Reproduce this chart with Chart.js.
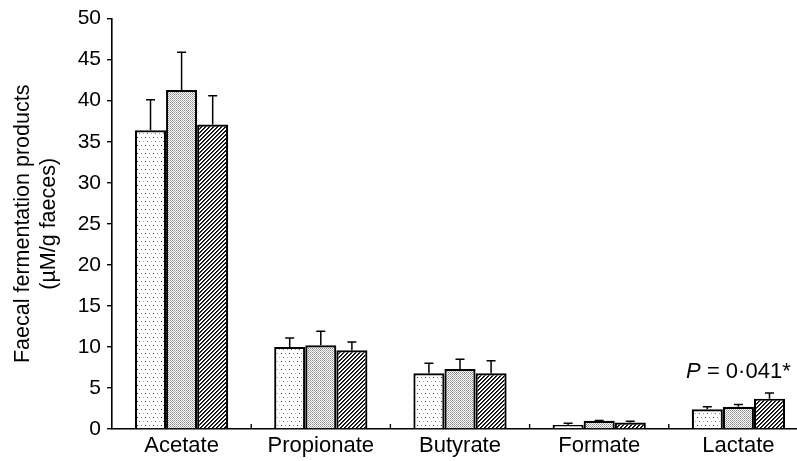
<!DOCTYPE html>
<html><head><meta charset="utf-8">
<script src="https://cdn.jsdelivr.net/npm/chart.js@4"></script>
<style>
html,body{margin:0;padding:0;overflow:hidden;background:#fff;width:797px;height:461px}
canvas{display:block}
</style></head>
<body><canvas id="c" width="810" height="461"></canvas>
<script>
// ---- data ----
const categories = ['Acetate', 'Propionate', 'Butyrate', 'Formate', 'Lactate'];
const group1 = [36.4, 10.0, 6.8, 0.5, 2.4];
const group1Err = [3.7, 1.1, 1.2, 0.2, 0.3];
const group2 = [41.3, 10.2, 7.3, 1.0, 2.7];
const group2Err = [4.6, 1.7, 1.2, 0.05, 0.3];
const group3 = [37.1, 9.6, 6.8, 0.8, 3.7];
const group3Err = [3.5, 1.0, 1.5, 0.15, 0.7];
const yTicks = [0, 5, 10, 15, 20, 25, 30, 35, 40, 45, 50];
const yTitle = ['Faecal fermentation products', '(\u00b5M/g faeces)'];
const pLabelCategory = 'Lactate';
const pLabelItalic = 'P';
const pLabelRest = ' = 0\u00b7041*';

const FONT = "'Liberation Sans', Arial, Helvetica, sans-serif";

function makePattern(kind) {
  const c = document.createElement('canvas');
  const x = c.getContext('2d');
  if (kind === 'dots') {
    c.width = 8; c.height = 8;
    x.fillStyle = '#fff'; x.fillRect(0, 0, 8, 8);
    x.fillStyle = '#222'; x.fillRect(1, 1, 1, 1);
    x.fillStyle = '#999'; x.fillRect(5, 1, 1, 1);
    x.fillStyle = '#666'; x.fillRect(3, 5, 1, 1);
    x.fillStyle = '#aaa'; x.fillRect(7, 5, 1, 1);
  } else if (kind === 'stipple') {
    c.width = 2; c.height = 2;
    x.fillStyle = '#fff'; x.fillRect(0, 0, 2, 2);
    x.fillStyle = '#8a8a8a'; x.fillRect(0, 0, 1, 1);
    x.fillStyle = '#b0b0b0'; x.fillRect(1, 1, 1, 1);
  } else {
    c.width = 4; c.height = 4;
    x.fillStyle = '#fff'; x.fillRect(0, 0, 4, 4);
    for (let i = 0; i < 4; i++) {
      x.fillStyle = '#000'; x.fillRect(i, 3 - i, 1, 1);
      x.fillStyle = '#333'; x.fillRect(i, (4 - i) % 4, 1, 1);
    }
  }
  return document.getElementById('c').getContext('2d').createPattern(c, 'repeat');
}

const errorBarPlugin = {
  id: 'errorBars',
  afterDatasetsDraw(chart) {
    const ctx = chart.ctx;
    const ys = chart.scales.y, xs = chart.scales.x;
    ctx.save();
    ctx.strokeStyle = '#000';
    ctx.lineWidth = 1.5;
    chart.data.datasets.forEach((ds, di) => {
      const meta = chart.getDatasetMeta(di);
      meta.data.forEach((bar, i) => {
        const top = ys.getPixelForValue(ds.data[i] + ds.errors[i]);
        ctx.beginPath();
        ctx.moveTo(bar.x, bar.y);
        ctx.lineTo(bar.x, top);
        ctx.moveTo(bar.x - 4.5, top);
        ctx.lineTo(bar.x + 4.5, top);
        ctx.stroke();
      });
    });
    // inward tick marks at category boundaries
    const bottom = chart.chartArea.bottom;
    ctx.lineWidth = 1.4;
    for (let i = 1; i < categories.length; i++) {
      const bx = (xs.getPixelForValue(i - 1) + xs.getPixelForValue(i)) / 2;
      ctx.beginPath();
      ctx.moveTo(bx, bottom);
      ctx.lineTo(bx, bottom - 5);
      ctx.stroke();
    }
    // P-value annotation
    const ci = categories.indexOf(pLabelCategory);
    let maxTop = 0;
    chart.data.datasets.forEach(ds => { maxTop = Math.max(maxTop, ds.data[ci] + ds.errors[ci]); });
    const baseY = ys.getPixelForValue(maxTop) - 15;
    const cx = xs.getPixelForValue(ci);
    ctx.fillStyle = '#000';
    ctx.textBaseline = 'alphabetic';
    ctx.font = 'italic 22px ' + FONT;
    const w1 = ctx.measureText(pLabelItalic).width;
    ctx.font = '22px ' + FONT;
    const w2 = ctx.measureText(pLabelRest).width;
    const sx = cx - (w1 + w2) / 2;
    ctx.font = 'italic 22px ' + FONT;
    ctx.fillText(pLabelItalic, sx, baseY);
    ctx.font = '22px ' + FONT;
    ctx.fillText(pLabelRest, sx + w1, baseY);
    ctx.restore();
  }
};

const commonBar = { borderColor: '#000', borderWidth: 2.2, categoryPercentage: 0.67, barPercentage: 1.0 };

new Chart(document.getElementById('c'), {
  type: 'bar',
  data: {
    labels: categories,
    datasets: [
      Object.assign({ label: 'Group 1', data: group1, errors: group1Err, backgroundColor: makePattern('dots') }, commonBar),
      Object.assign({ label: 'Group 2', data: group2, errors: group2Err, backgroundColor: makePattern('stipple') }, commonBar),
      Object.assign({ label: 'Group 3', data: group3, errors: group3Err, backgroundColor: makePattern('hatch') }, commonBar)
    ]
  },
  options: {
    responsive: false,
    animation: false,
    devicePixelRatio: 1,
    layout: { padding: { top: 18, right: 2, left: 0, bottom: 0 } },
    plugins: { legend: { display: false }, tooltip: { enabled: false } },
    scales: {
      x: {
        offset: true,
        grid: { display: false, drawTicks: false },
        border: { display: true, color: '#000', width: 1.6 },
        ticks: { color: '#000', font: { family: FONT, size: 22 }, padding: 4 },
        afterFit(s) { s.height = 32; }
      },
      y: {
        min: 0, max: 50,
        afterBuildTicks(s) { s.ticks = yTicks.map(v => ({ value: v })); },
        grid: { drawOnChartArea: false, drawTicks: true, tickLength: 5, color: '#000', lineWidth: 1.4 },
        border: { display: true, color: '#000', width: 1.6 },
        ticks: { color: '#000', font: { family: FONT, size: 21 }, padding: 6 },
        title: { display: true, text: yTitle, color: '#000', font: { family: FONT, size: 21.5 }, padding: { top: 10, bottom: 0 } },
        afterFit(s) { s.width = 112; }
      }
    }
  },
  plugins: [errorBarPlugin]
});
</script>
</body></html>
